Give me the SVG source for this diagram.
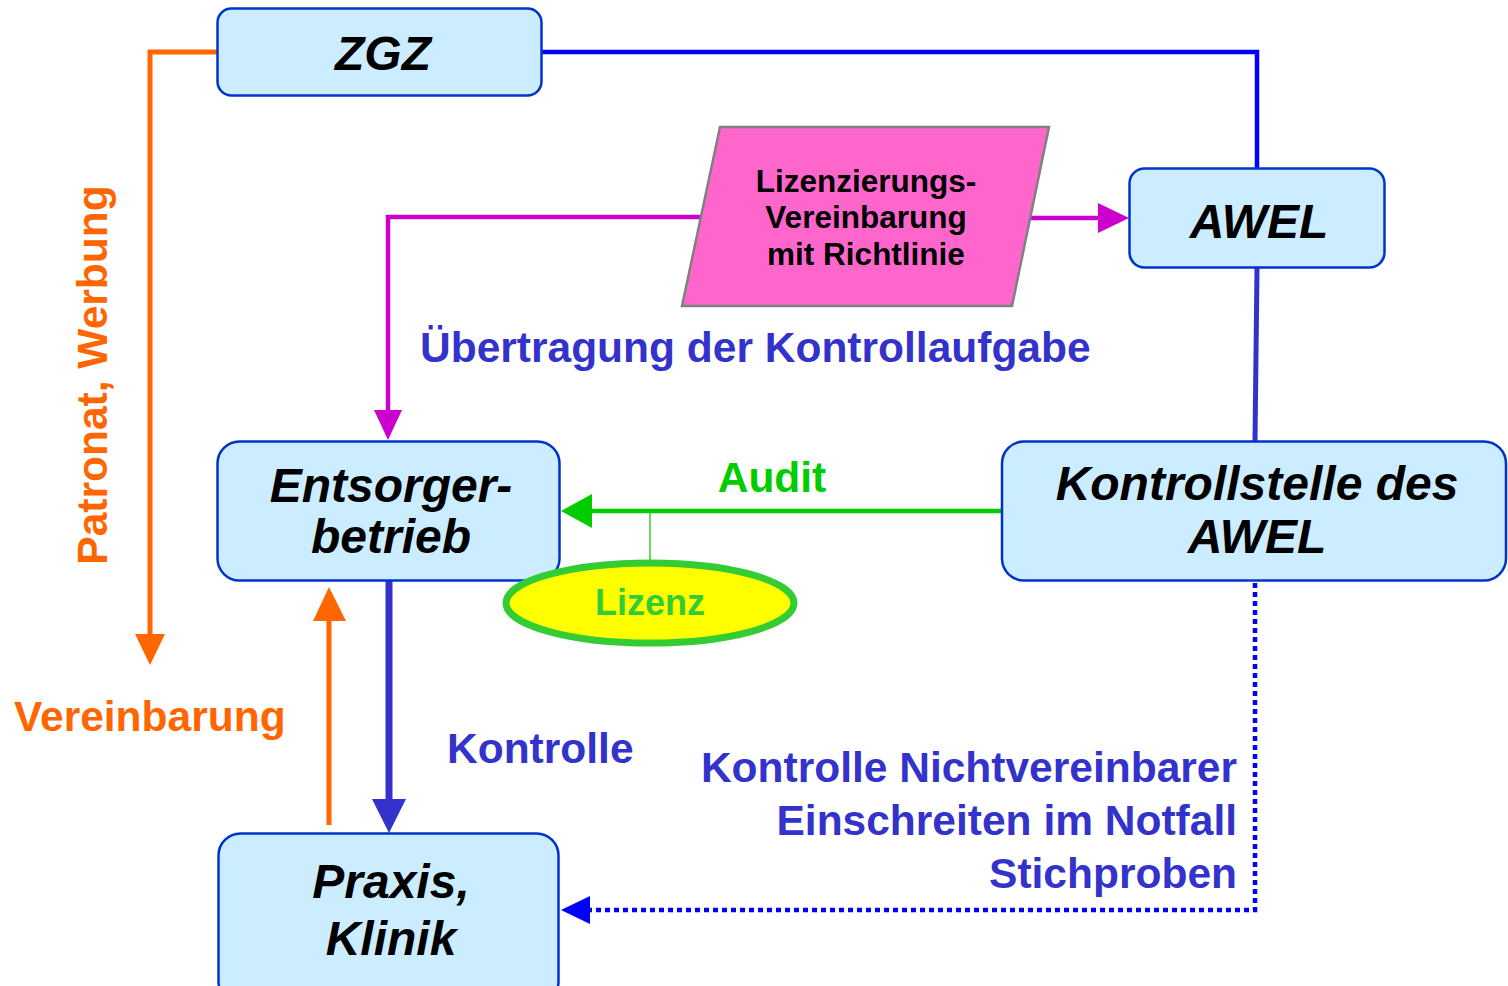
<svg xmlns="http://www.w3.org/2000/svg" width="1508" height="986" viewBox="0 0 1508 986">
<style>
.box{fill:#CCECFF;stroke:#0033CC;stroke-width:2.5}
.nt{font-family:"Liberation Sans",Arial,sans-serif;font-weight:bold;font-style:italic;font-size:48px;fill:#000;text-anchor:middle}
.lb{font-family:"Liberation Sans",Arial,sans-serif;font-weight:bold;font-size:42.5px}
</style>
<rect width="1508" height="986" fill="#fff"/>
<g id="connectors" fill="none">
  <polyline points="217,52 150,52 150,636" stroke="#FF6600" stroke-width="5"/>
  <polygon points="135,634 165,634 150,665" fill="#FF6600"/>
  <polyline points="542,52 1257,52 1257,168" stroke="#0000FF" stroke-width="4.5"/>
  <polyline points="700,217 388,217 388,412" stroke="#CC00CC" stroke-width="4.5"/>
  <polygon points="374,410 402,410 388,440" fill="#CC00CC"/>
  <line x1="1030" y1="218" x2="1100" y2="218" stroke="#CC00CC" stroke-width="4.5"/>
  <polygon points="1098,203 1098,233 1129,218" fill="#CC00CC"/>
  <line x1="1257" y1="268" x2="1255" y2="441" stroke="#3333CC" stroke-width="5"/>
  <line x1="1001" y1="511" x2="590" y2="511" stroke="#00CC00" stroke-width="4.5"/>
  <polygon points="592,494 592,528 561,511" fill="#00CC00"/>
  <line x1="650" y1="513" x2="650" y2="563" stroke="#33CC33" stroke-width="1.5"/>
  <line x1="389" y1="581" x2="389" y2="802" stroke="#3333CC" stroke-width="7"/>
  <polygon points="372,799 406,799 389,833" fill="#3333CC"/>
  <line x1="329" y1="825" x2="329" y2="618" stroke="#FF6600" stroke-width="5"/>
  <polygon points="313,621 346,621 329,587" fill="#FF6600"/>
  <polyline points="1255,583 1255,910 590,910" stroke="#0000FF" stroke-width="4.5" stroke-dasharray="5 4"/>
  <polygon points="590,896 590,924 561,910" fill="#0000FF"/>
</g>
<g id="zgz">
  <rect class="box" x="217.5" y="8.5" width="324" height="87" rx="14"/>
  <text class="nt" x="383" y="70" font-size="49">ZGZ</text>
</g>
<g id="lizenzierung">
  <polygon points="720,127 1049,127 1012,306 682,306" fill="#FF66CC" stroke="#808080" stroke-width="2.5"/>
  <g font-family="'Liberation Sans',Arial,sans-serif" font-weight="bold" font-size="31.5" text-anchor="middle" fill="#000">
    <text x="866" y="192">Lizenzierungs-</text>
    <text x="866" y="228">Vereinbarung</text>
    <text x="866" y="265">mit Richtlinie</text>
  </g>
</g>
<g id="awel">
  <rect class="box" x="1129.5" y="168.5" width="255" height="99" rx="15"/>
  <text class="nt" x="1259" y="238">AWEL</text>
</g>
<g id="entsorger">
  <rect class="box" x="217.5" y="441.5" width="342" height="139" rx="22"/>
  <text class="nt" x="391" y="502">Entsorger-</text>
  <text class="nt" x="391" y="553">betrieb</text>
</g>
<g id="kontrollstelle">
  <rect class="box" x="1002" y="441.5" width="504" height="139" rx="22"/>
  <text class="nt" x="1257" y="500">Kontrollstelle des</text>
  <text class="nt" x="1257" y="553">AWEL</text>
</g>
<g id="lizenz">
  <ellipse cx="650" cy="603" rx="144" ry="40" fill="#FFFF00" stroke="#33CC33" stroke-width="7"/>
  <text x="650" y="615" font-family="'Liberation Sans',Arial,sans-serif" font-weight="bold" font-size="36" fill="#33CC33" text-anchor="middle">Lizenz</text>
</g>
<g id="praxis">
  <rect class="box" x="218.5" y="833.5" width="340" height="170" rx="22"/>
  <text class="nt" x="391" y="898">Praxis,</text>
  <text class="nt" x="391" y="955">Klinik</text>
</g>
<g id="labels" class="lb">
  <text class="lb" x="420" y="362" fill="#3333CC">Übertragung der Kontrollaufgabe</text>
  <text class="lb" x="772" y="492" fill="#00CC00" text-anchor="middle">Audit</text>
  <text class="lb" x="14" y="731" fill="#FF6600">Vereinbarung</text>
  <text class="lb" x="447" y="763" fill="#3333CC">Kontrolle</text>
  <text class="lb" transform="translate(107,375) rotate(-90)" fill="#FF6600" text-anchor="middle">Patronat, Werbung</text>
  <g fill="#3333CC" text-anchor="end">
    <text class="lb" x="1237" y="782">Kontrolle Nichtvereinbarer</text>
    <text class="lb" x="1237" y="835">Einschreiten im Notfall</text>
    <text class="lb" x="1237" y="888">Stichproben</text>
  </g>
</g>
</svg>
